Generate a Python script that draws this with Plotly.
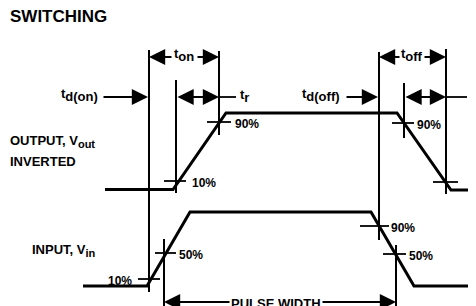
import plotly.graph_objects as go

# ---- data (diagram units: x = time position, y = level position, y grows downward) ----
out_t = [105, 173, 226, 397, 451, 476]
out_v = [189.5, 189.5, 113, 113, 190, 190]
in_t = [83, 147, 190, 371, 414, 476]
in_v = [286, 286, 212, 212, 286, 286]

# vertical timing reference lines
ref_x = [149, 176, 219, 379, 404, 446, 164, 396]
ref_top = [50, 80, 51, 52, 83, 49, 239, 245]
ref_bot = [292, 193, 135, 240, 138, 194, 306, 306]

# level-crossing marks
mark_y = [181, 122, 123, 182, 279, 253, 226, 254]
mark_l = [164, 207, 392, 433, 138, 155, 360, 383]
mark_r = [186, 231, 414, 458, 160, 176, 389, 406]
mark_text = ["10%", "90%", "90%", "", "10%", "50%", "90%", "50%"]
mark_tx = [190, 233, 415, 0, 134, 177, 389, 407]
mark_side = ["left", "left", "left", "left", "right", "left", "left", "left"]

# arrows: tail x, head x, y, double-headed
arr_tail = [102, 173, 196, 176, 345, 401, 423, 404, 233, 320]
arr_head = [148, 149, 219, 219, 378, 379, 446, 446, 164, 396]
arr_y = [97, 57, 57, 97, 97, 57, 57, 97, 302, 302]
arr_double = [False, False, False, True, False, False, False, True, False, False]

# plain leader lines
lead_x0 = [219, 446]
lead_x1 = [236, 467]
lead_y = [97, 97]


def big_sub(base, sub, size=13):
    return base + "<sub><span style='font-size:" + str(size) + "px'>" + sub + "</span></sub>"


# labels
lab_text = [big_sub("t", "d(on)"), big_sub("t", "on"), big_sub("t", "r"), big_sub("t", "d(off)"),
            big_sub("t", "off"), big_sub("t", "f"), big_sub("OUTPUT, V", "out", 11), "INVERTED",
            big_sub("INPUT, V", "in", 11), "PULSE WIDTH"]
lab_x = [100, 184, 238, 342, 412, 469, 8, 8, 30, 276]
lab_y = [95, 55, 96, 95, 55, 95, 141, 161, 250, 303]
lab_anchor = ["right", "center", "left", "right", "center", "left", "left", "left", "left", "center"]

FONT = "Liberation Sans, Arial"

fig = go.Figure()

fig.add_trace(go.Scatter(x=out_t, y=out_v, mode="lines",
                         line=dict(color="black", width=3), hoverinfo="skip"))
fig.add_trace(go.Scatter(x=in_t, y=in_v, mode="lines",
                         line=dict(color="black", width=3), hoverinfo="skip"))

vx, vy = [], []
for x, t, b in zip(ref_x, ref_top, ref_bot):
    vx += [x, x, None]
    vy += [t, b, None]
fig.add_trace(go.Scatter(x=vx, y=vy, mode="lines",
                         line=dict(color="black", width=2), hoverinfo="skip"))

mx, my = [], []
for y, l, r in zip(mark_y, mark_l, mark_r):
    mx += [l, r, None]
    my += [y, y, None]
for x0, x1, y in zip(lead_x0, lead_x1, lead_y):
    mx += [x0, x1, None]
    my += [y, y, None]
fig.add_trace(go.Scatter(x=mx, y=my, mode="lines",
                         line=dict(color="black", width=1.8), hoverinfo="skip"))

for tail, head, y, dbl in zip(arr_tail, arr_head, arr_y, arr_double):
    fig.add_annotation(x=head, y=y, ax=tail, ay=y, axref="x", ayref="y",
                       xref="x", yref="y", text="", showarrow=True,
                       arrowhead=2, arrowsize=1.8, arrowwidth=1.8,
                       arrowcolor="black", standoff=0, startstandoff=0,
                       arrowside="end+start" if dbl else "end")

for t, x, y, s in zip(mark_text, mark_tx, mark_y, mark_side):
    if t:
        fig.add_annotation(x=x, y=y + 2, text="<b>" + t + "</b>", showarrow=False, xanchor=s,
                           yanchor="middle", font=dict(family=FONT, size=12, color="black"))

for t, x, y, a in zip(lab_text, lab_x, lab_y, lab_anchor):
    fig.add_annotation(x=x, y=y, text="<b>" + t + "</b>", showarrow=False, xanchor=a,
                       yanchor="middle", bgcolor="white" if t == "PULSE WIDTH" else None,
                       font=dict(family=FONT, size=13, color="black"))

fig.add_annotation(x=8, y=16, text="<b>SWITCHING</b>", showarrow=False,
                   xanchor="left", yanchor="middle",
                   font=dict(family=FONT, size=17, color="black"))

# the page body adds an 8px offset; axis ranges are set so that units line up with the view
fig.update_layout(width=468, height=298, margin=dict(l=0, r=0, t=0, b=0),
                  paper_bgcolor="white", plot_bgcolor="white", showlegend=False,
                  xaxis=dict(range=[8, 476], visible=False, fixedrange=True),
                  yaxis=dict(range=[306, 8], visible=False, fixedrange=True))

fig.write_html("out.html")
